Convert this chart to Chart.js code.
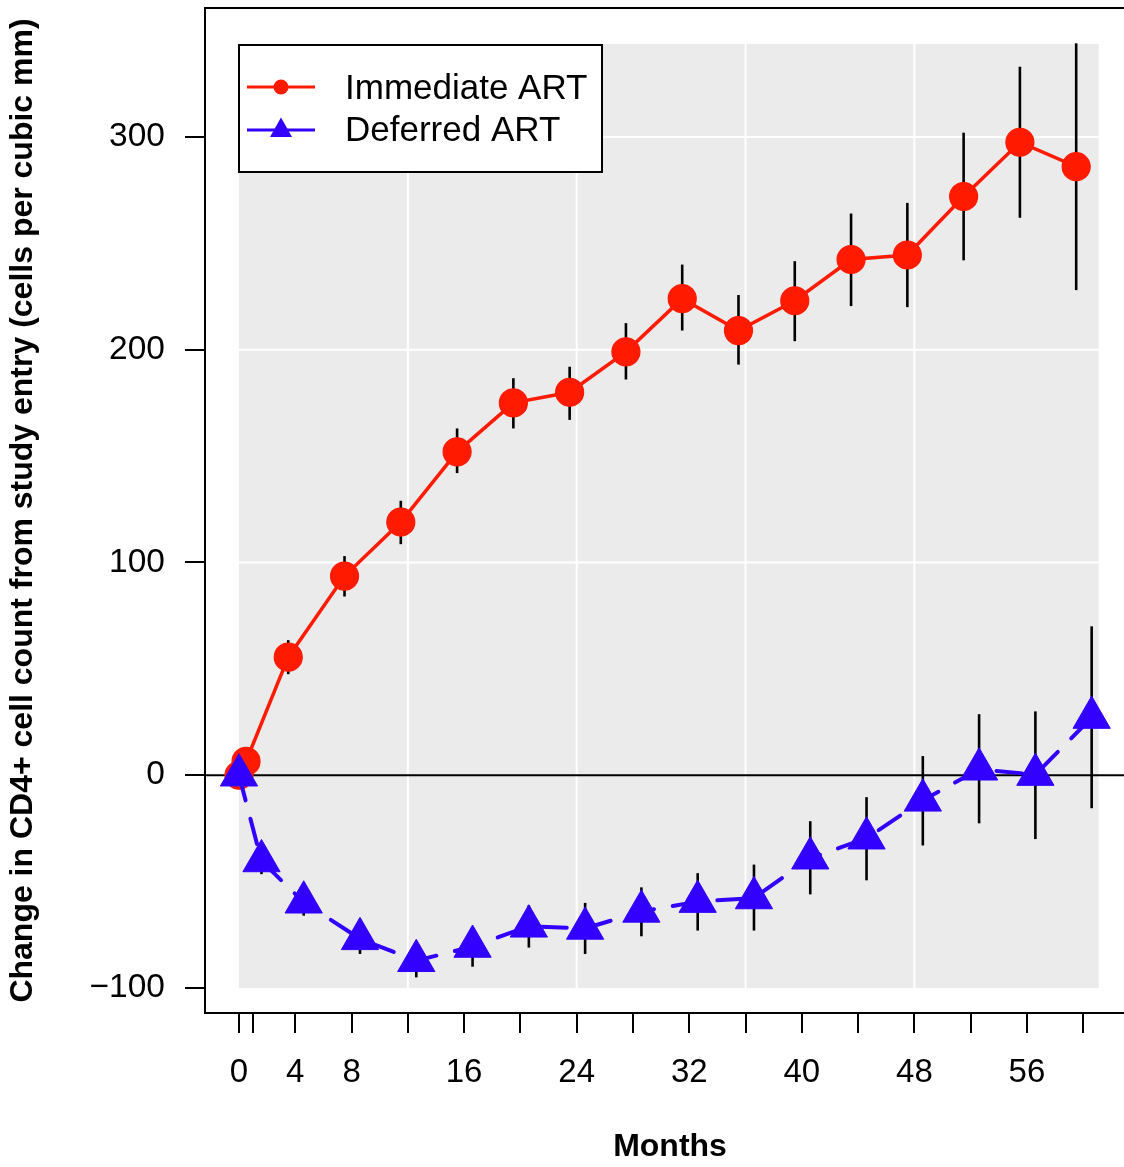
<!DOCTYPE html>
<html>
<head>
<meta charset="utf-8">
<script src="https://cdn.jsdelivr.net/npm/chart.js@4.4.1/dist/chart.umd.min.js"></script>
<style>
  html, body { margin: 0; padding: 0; background: #fff; overflow: hidden; }
  #marco { width: 1124px; height: 1167px; overflow: hidden; }
</style>
</head>
<body>
<div id="marco"><canvas id="cd4" width="1140" height="1167"></canvas></div>
<script>
// months of follow-up
const meses = [0, 1, 4, 8, 12, 16, 20, 24, 28, 32, 36, 40, 44, 48, 52, 56, 60];

// Immediate ART: mean change and error bar limits
const inmediataMedia = [0, 6.5, 55.5, 93.6, 119, 152, 175, 180, 199, 224, 209, 223, 242.4, 244.5, 272, 297.5, 286];
const inmediataBaja  = [0, 0.5, 47.5, 84, 108.6, 142, 163, 167, 186, 209, 193, 204, 220.5, 220, 242, 262, 228];
const inmediataAlta  = [0, 13, 63.5, 103, 129, 163, 186.6, 192, 212.5, 240, 225.7, 241.6, 264, 269, 302, 333, 344];

// Deferred ART
const diferidaMedia = [0, -40.3, -59.7, -76.9, -87.2, -80.5, -71, -72, -64, -59.4, -57.7, -39, -29.6, -11.8, 2.8, 0.3, 27.1];
const diferidaBaja  = [0, -46.5, -66, -84, -95, -90, -81, -84, -75.7, -73, -73, -56, -49.4, -33, -22.6, -30, -15.5];
const diferidaAlta  = [0, -34, -53, -70, -80, -72, -61, -60, -52.7, -46, -42, -21.6, -10.3, 9, 28.7, 30, 70];

// axis ticks
const ticksX = [0, 1, 4, 8, 12, 16, 20, 24, 28, 32, 36, 40, 44, 48, 52, 56, 60];
const etiquetasX = [0, 4, 8, 16, 24, 32, 40, 48, 56];
const ticksY = [-100, 0, 100, 200, 300];

const ROJO = '#FF1A00';
const AZUL = '#3100FF';
const FUENTE = "'Liberation Sans', Arial, sans-serif";

// small horizontal dodge so the two groups don't overlap
function puntos(media, desplazamiento) {
  return meses.map((m, i) => ({ x: m === 0 ? 0 : m + desplazamiento, y: media[i] }));
}

const puntosInmediata = puntos(inmediataMedia, -0.5);
const puntosDiferida = puntos(diferidaMedia, 0.6);

// gray panel, white grid, zero line and error bars
const fondo = {
  id: 'fondo',
  beforeDatasetsDraw(chart) {
    const { ctx, chartArea, scales: { x, y } } = chart;
    ctx.save();
    const x0 = x.getPixelForValue(0), x1 = x.getPixelForValue(61.1);
    const y0 = y.getPixelForValue(343.7), y1 = y.getPixelForValue(-100);
    ctx.fillStyle = '#EBEBEB';
    ctx.fillRect(x0, y0, x1 - x0, y1 - y0);

    ctx.strokeStyle = '#FFFFFF';
    ctx.lineWidth = 2;
    [12, 24, 36, 48].forEach(v => {
      const px = x.getPixelForValue(v);
      ctx.beginPath(); ctx.moveTo(px, y0); ctx.lineTo(px, y1); ctx.stroke();
    });
    [100, 200, 300].forEach(v => {
      const py = y.getPixelForValue(v);
      ctx.beginPath(); ctx.moveTo(x0, py); ctx.lineTo(x1, py); ctx.stroke();
    });

    ctx.strokeStyle = '#000';
    ctx.lineWidth = 2;
    const cero = y.getPixelForValue(0);
    ctx.beginPath(); ctx.moveTo(chartArea.left, cero); ctx.lineTo(chartArea.right, cero); ctx.stroke();

    ctx.lineWidth = 2.6;
    const barras = [
      [puntosInmediata, inmediataBaja, inmediataAlta],
      [puntosDiferida, diferidaBaja, diferidaAlta]
    ];
    barras.forEach(([pts, bajo, alto]) => {
      pts.forEach((p, i) => {
        if (bajo[i] === alto[i]) return;
        const px = x.getPixelForValue(p.x);
        ctx.beginPath();
        ctx.moveTo(px, y.getPixelForValue(bajo[i]));
        ctx.lineTo(px, y.getPixelForValue(alto[i]));
        ctx.stroke();
      });
    });
    ctx.restore();
  },
  afterDraw(chart) {
    const { ctx, chartArea } = chart;
    ctx.save();
    // frame
    ctx.strokeStyle = '#000';
    ctx.lineWidth = 2;
    ctx.strokeRect(chartArea.left, chartArea.top, chartArea.right - chartArea.left, chartArea.bottom - chartArea.top);

    // legend box
    ctx.fillStyle = '#fff';
    ctx.fillRect(239, 45, 363, 127);
    ctx.strokeRect(239, 45, 363, 127);

    ctx.lineWidth = 3;
    ctx.strokeStyle = ROJO;
    ctx.beginPath(); ctx.moveTo(247, 87); ctx.lineTo(315, 87); ctx.stroke();
    ctx.fillStyle = ROJO;
    ctx.beginPath(); ctx.arc(281, 87, 7.5, 0, Math.PI * 2); ctx.fill();

    ctx.strokeStyle = AZUL;
    ctx.beginPath(); ctx.moveTo(247, 130); ctx.lineTo(315, 130); ctx.stroke();
    ctx.fillStyle = AZUL;
    ctx.beginPath();
    ctx.moveTo(281, 117.5); ctx.lineTo(292, 137); ctx.lineTo(270, 137);
    ctx.closePath(); ctx.fill();

    ctx.fillStyle = '#000';
    ctx.font = '35px ' + FUENTE;
    ctx.textAlign = 'left';
    ctx.textBaseline = 'alphabetic';
    ctx.fillText(chart.data.datasets[0].label, 345, 99);
    ctx.fillText(chart.data.datasets[1].label, 345, 141);
    ctx.restore();
  }
};

function sinRelleno(scale) {
  scale.paddingLeft = 0;
  scale.paddingRight = 0;
  scale.paddingTop = 0;
  scale.paddingBottom = 0;
}

new Chart(document.getElementById('cd4'), {
  type: 'line',
  data: {
    datasets: [
      {
        label: 'Immediate ART',
        data: puntosInmediata,
        borderColor: ROJO,
        backgroundColor: ROJO,
        borderWidth: 3.5,
        pointStyle: 'circle',
        pointRadius: 14,
        pointBorderWidth: 1.2,
        tension: 0,
        order: 1
      },
      {
        label: 'Deferred ART',
        data: puntosDiferida,
        borderColor: AZUL,
        backgroundColor: AZUL,
        borderWidth: 4,
        borderDash: [26, 19],
        borderCapStyle: 'round',
        pointStyle: 'triangle',
        pointRadius: 21.5,
        pointBorderWidth: 1,
        tension: 0,
        order: 0
      }
    ]
  },
  options: {
    responsive: false,
    animation: false,
    devicePixelRatio: 1,
    layout: { autoPadding: false, padding: { top: 8, right: 5, left: 0, bottom: 0 } },
    scales: {
      x: {
        type: 'linear',
        min: -2.416,
        max: 63.68,
        afterBuildTicks: s => { s.ticks = ticksX.map(v => ({ value: v })); },
        afterFit: s => { s.height = 154; sinRelleno(s); },
        border: { display: false },
        grid: {
          drawOnChartArea: false,
          drawTicks: true,
          tickLength: 20,
          color: '#000',
          tickColor: '#000',
          tickWidth: 2,
          lineWidth: 2
        },
        ticks: {
          autoSkip: false,
          maxRotation: 0,
          padding: 20,
          color: '#000',
          font: { family: FUENTE, size: 33 },
          callback: v => etiquetasX.includes(v) ? String(v) : ''
        },
        title: {
          display: true,
          text: 'Months',
          color: '#000',
          font: { family: FUENTE, size: 32, weight: 'bold' },
          padding: { top: 0, bottom: 1 }
        }
      },
      y: {
        min: -111.75,
        max: 360.6,
        afterBuildTicks: s => { s.ticks = ticksY.map(v => ({ value: v })); },
        afterFit: s => { s.width = 205; sinRelleno(s); },
        border: { display: false },
        grid: {
          drawOnChartArea: false,
          drawTicks: true,
          tickLength: 20,
          color: '#000',
          tickColor: '#000',
          tickWidth: 2,
          lineWidth: 2
        },
        ticks: {
          padding: 20,
          color: '#000',
          font: { family: FUENTE, size: 33.5 },
          callback: v => v < 0 ? '\u2212' + Math.abs(v) : String(v)
        },
        title: {
          display: true,
          text: 'Change in CD4+ cell count from study entry (cells per cubic mm)',
          color: '#000',
          font: { family: FUENTE, size: 32, weight: 'bold' },
          padding: { top: 4, bottom: 0 }
        }
      }
    },
    plugins: {
      legend: { display: false },
      tooltip: { enabled: false }
    }
  },
  plugins: [fondo]
});
</script>
</body>
</html>
